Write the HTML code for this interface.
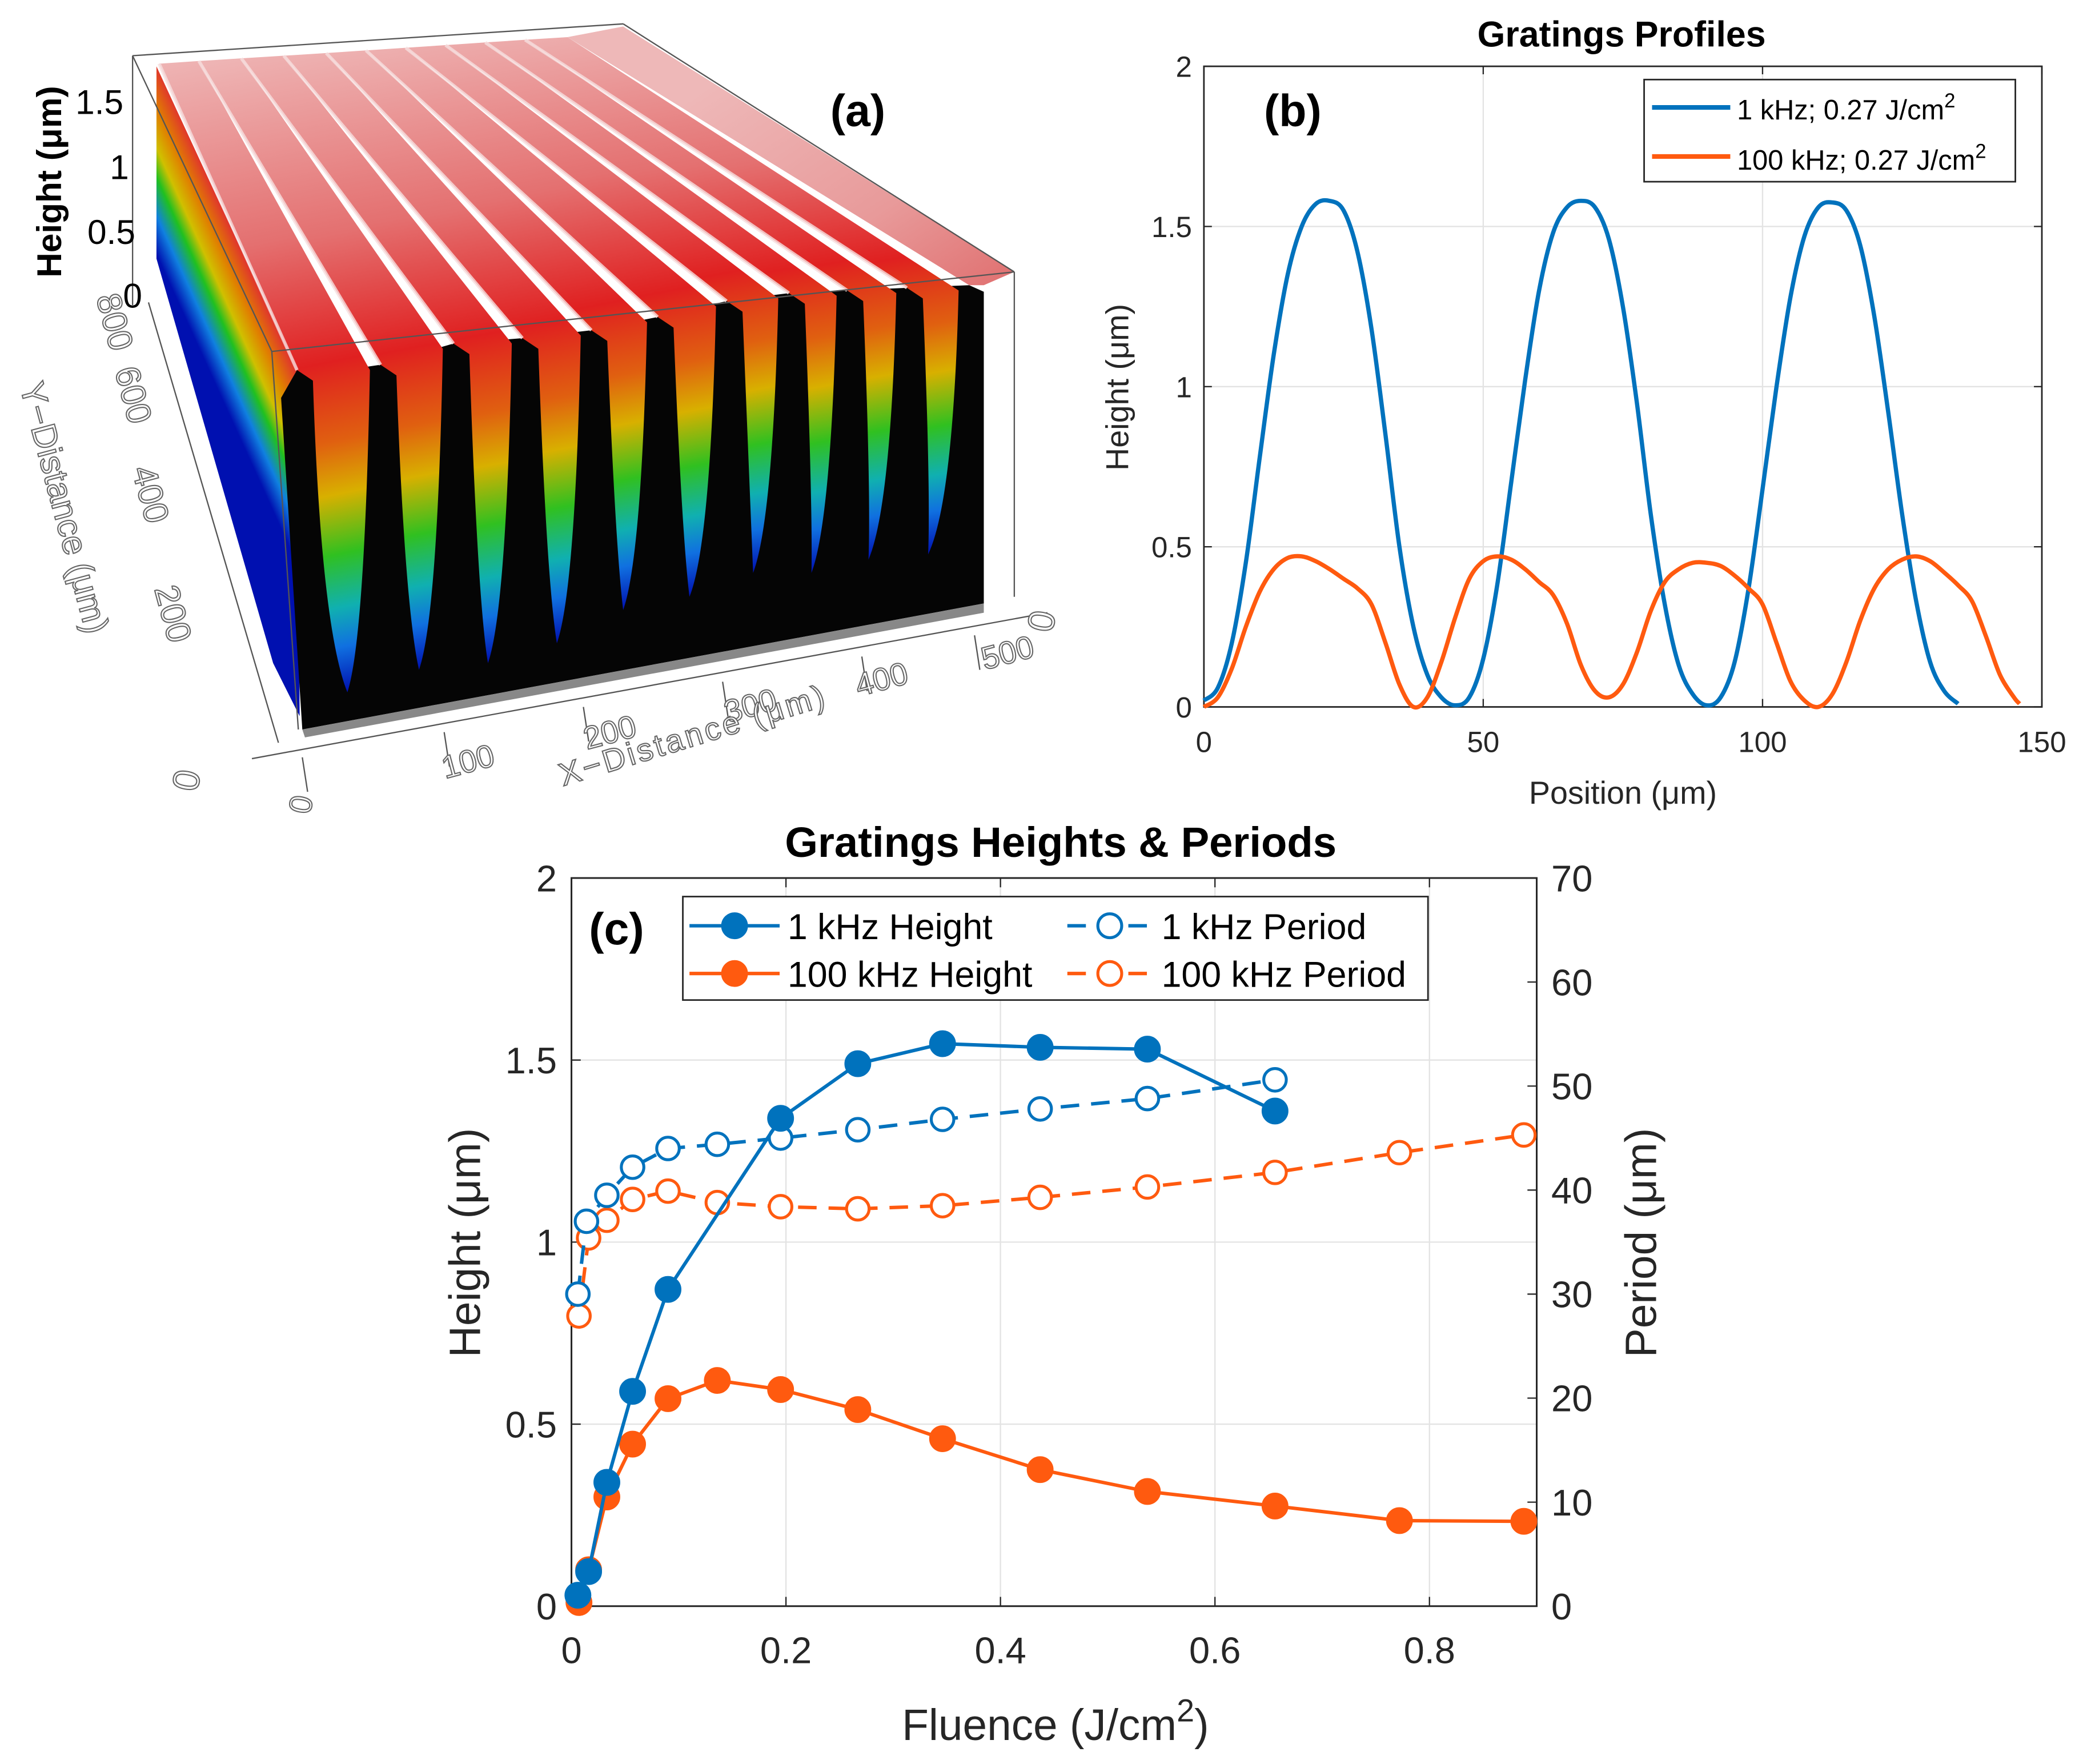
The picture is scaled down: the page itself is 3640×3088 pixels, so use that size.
<!DOCTYPE html>
<html><head><meta charset="utf-8">
<style>
html,body{margin:0;padding:0;background:#fff;}
svg{display:block;}
text{font-family:"Liberation Sans",sans-serif;}
</style></head>
<body>
<svg id="fig" xmlns="http://www.w3.org/2000/svg" width="3640" height="3088" viewBox="0 0 1568 1330" preserveAspectRatio="none">
<defs id="defs"></defs>
<g id="pa"></g>
<g id="pb"></g>
<g id="pc"></g>
</svg>
<script>
// ---------- Panel b data ----------
const profX = [0,2.5,5,7.5,10,12.5,15,17.5,20,22.5,25,27.5,30,32.5,35,37.5,40,42.5,45,47.5,50,52.5,55,57.5,60,62.5,65,67.5,70,72.5,75,77.5,80,82.5,85,87.5,90,92.5,95,97.5,100,102.5,105,107.5,110,112.5,115,117.5,120,122.5,125,127.5,130,132.5,135,137.5,140,142.5,145,146];
const prof1k = [0.02,0.06,0.2,0.45,0.78,1.1,1.35,1.5,1.57,1.58,1.55,1.42,1.18,0.85,0.5,0.25,0.1,0.03,0.005,0.03,0.15,0.38,0.7,1.02,1.3,1.48,1.56,1.58,1.56,1.46,1.25,0.95,0.6,0.32,0.13,0.04,0.005,0.03,0.14,0.37,0.68,1.0,1.28,1.47,1.56,1.575,1.55,1.44,1.22,0.92,0.6,0.33,0.14,0.05,0.01,null,null,null,null,null];
const prof100k = [0.0,0.03,0.12,0.25,0.36,0.43,0.465,0.47,0.455,0.43,0.4,0.37,0.32,0.2,0.07,0.0,0.03,0.14,0.28,0.4,0.455,0.47,0.46,0.43,0.39,0.35,0.26,0.13,0.05,0.03,0.07,0.17,0.3,0.39,0.43,0.45,0.45,0.44,0.41,0.37,0.32,0.2,0.08,0.02,0.0,0.04,0.14,0.27,0.37,0.43,0.46,0.47,0.455,0.42,0.38,0.33,0.22,0.1,0.03,0.01];
const bXTicks = [0,50,100,150];
const bYTicks = [0,0.5,1,1.5,2];
const bYTickLabels = ["0","0.5","1","1.5","2"];

// ---------- Panel c data ----------
const h1kX = [0.006,0.016,0.033,0.057,0.090,0.195,0.267,0.346,0.437,0.537,0.656];
const h1kY = [0.03,0.095,0.34,0.59,0.87,1.34,1.49,1.545,1.535,1.53,1.36];
const p1kX = [0.006,0.014,0.033,0.057,0.090,0.136,0.195,0.267,0.346,0.437,0.537,0.656];
const p1kY = [30.0,37.0,39.5,42.2,44.0,44.4,45.0,45.8,46.8,47.8,48.8,50.6];
const h100kX = [0.007,0.016,0.033,0.057,0.090,0.136,0.195,0.267,0.346,0.437,0.537,0.656,0.772,0.888];
const h100kY = [0.01,0.10,0.30,0.445,0.57,0.62,0.595,0.54,0.46,0.375,0.315,0.275,0.235,0.233];
const p100kX = [0.007,0.016,0.033,0.057,0.090,0.136,0.195,0.267,0.346,0.437,0.537,0.656,0.772,0.888];
const p100kY = [27.9,35.4,37.1,39.1,39.9,38.8,38.4,38.2,38.5,39.3,40.3,41.7,43.6,45.3];
const cXTicks = [0,0.2,0.4,0.6,0.8];
const cXTickLabels = ["0","0.2","0.4","0.6","0.8"];
const cYTicks = [0,0.5,1,1.5,2];
const cYTickLabels = ["0","0.5","1","1.5","2"];
const cY2Ticks = [0,10,20,30,40,50,60,70];

const NS = "http://www.w3.org/2000/svg";
function mk(parent, tag, attrs, txt){
  const e = document.createElementNS(NS, tag);
  for (const k in attrs) e.setAttribute(k, attrs[k]);
  if (txt !== undefined) e.textContent = txt;
  parent.appendChild(e);
  return e;
}
const BLUE = "#0072BD", ORANGE = "#FF5A0F";

// ================= Panel B =================
(function(){
  const g = document.getElementById('pb');
  const L=908,R=1540,T=50,B=533;
  const sx = v => L + (v-0)/(150-0)*(R-L);
  const sy = v => B - (v-0)/(2-0)*(B-T);
  bXTicks.forEach(t=>{
    if (t>0 && t<150){ const l = mk(g,'line',{x1:sx(t),x2:sx(t),y1:T,y2:B,stroke:'#e3e3e3','stroke-width':1});
      }
  });
  bYTicks.forEach(t=>{
    if (t>0 && t<2){ const l = mk(g,'line',{x1:L,x2:R,y1:sy(t),y2:sy(t),stroke:'#e3e3e3','stroke-width':1});
      }
  });
  const box = mk(g,'rect',{x:L,y:T,width:R-L,height:B-T,fill:'none',stroke:'#262626','stroke-width':1.2});
   
  bXTicks.forEach(t=>{
    mk(g,'line',{x1:sx(t),x2:sx(t),y1:B,y2:B-6,stroke:'#262626'});
    mk(g,'line',{x1:sx(t),x2:sx(t),y1:T,y2:T+6,stroke:'#262626'});
    const tx = mk(g,'text',{x:sx(t),y:567,'font-size':22,'text-anchor':'middle',fill:'#262626'},String(t));
     
  });
  bYTicks.forEach((t,i)=>{
    mk(g,'line',{x1:L,x2:L+6,y1:sy(t),y2:sy(t),stroke:'#262626'});
    mk(g,'line',{x1:R,x2:R-6,y1:sy(t),y2:sy(t),stroke:'#262626'});
    const tx = mk(g,'text',{x:899,y:sy(t)+8,'font-size':22,'text-anchor':'end',fill:'#262626'},bYTickLabels[i]);
     
  });
  function smooth(xs, ys){
    const pts=[]; xs.forEach((x,i)=>{ if(ys[i]!==null) pts.push([sx(x),sy(ys[i])]); });
    let d='M'+pts[0][0]+','+pts[0][1];
    for(let i=0;i<pts.length-1;i++){
      const p0=pts[Math.max(0,i-1)],p1=pts[i],p2=pts[i+1],p3=pts[Math.min(pts.length-1,i+2)];
      const c1=[p1[0]+(p2[0]-p0[0])/6,p1[1]+(p2[1]-p0[1])/6];
      const c2=[p2[0]-(p3[0]-p1[0])/6,p2[1]-(p3[1]-p1[1])/6];
      d+=' C'+c1[0]+','+c1[1]+' '+c2[0]+','+c2[1]+' '+p2[0]+','+p2[1];
    }
    return d;
  }
  const l1 = mk(g,'path',{d:smooth(profX,prof1k),fill:'none',stroke:BLUE,'stroke-width':3.2,'stroke-linejoin':'round'});
   
  const l2 = mk(g,'path',{d:smooth(profX,prof100k),fill:'none',stroke:ORANGE,'stroke-width':3.2,'stroke-linejoin':'round'});
   
  const title = mk(g,'text',{x:1223,y:35,'font-size':27,'font-weight':'bold','text-anchor':'middle',fill:'#000'},'Gratings Profiles');
   
  const xl = mk(g,'text',{x:1224,y:606,'font-size':24,'text-anchor':'middle',fill:'#262626'},'Position (μm)');
   
  const yl = mk(g,'text',{x:0,y:0,'font-size':24,'text-anchor':'middle',fill:'#262626',transform:'translate(851,292) rotate(-90)'},'Height (μm)');
   
  const pl = mk(g,'text',{x:975,y:95,'font-size':34,'font-weight':'bold','text-anchor':'middle',fill:'#000','font-family':'Liberation Serif, serif'},'(b)');
   
  const lg = mk(g,'g',{});
   
  mk(lg,'rect',{x:1240,y:60,width:280,height:77,fill:'#fff',stroke:'#262626','stroke-width':1.2});
  const e1 = mk(lg,'g',{});
   
  mk(e1,'line',{x1:1246,x2:1305,y1:81,y2:81,stroke:BLUE,'stroke-width':3.5});
  const t1 = mk(e1,'text',{x:1310,y:90,'font-size':21,fill:'#000'},'1 kHz; 0.27 J/cm');
  mk(t1,'tspan',{dy:-9,'font-size':15},'2');
  const e2 = mk(lg,'g',{});
   
  mk(e2,'line',{x1:1246,x2:1305,y1:118,y2:118,stroke:ORANGE,'stroke-width':3.5});
  const t2 = mk(e2,'text',{x:1310,y:128,'font-size':21,fill:'#000'},'100 kHz; 0.27 J/cm');
  mk(t2,'tspan',{dy:-9,'font-size':15},'2');
})();

// ================= Panel C =================
(function(){
  const g = document.getElementById('pc');
  const L=431,R=1159,T=662,B=1211;
  const sx = v => L + v/0.9*(R-L);
  const sy = v => B - v/2*(B-T);
  const sy2 = v => B - v/70*(B-T);
  cXTicks.forEach(t=>{ if(t>0){
    const l = mk(g,'line',{x1:sx(t),x2:sx(t),y1:T,y2:B,stroke:'#e3e3e3','stroke-width':1});
      }});
  cYTicks.forEach(t=>{ if(t>0 && t<2){
    const l = mk(g,'line',{x1:L,x2:R,y1:sy(t),y2:sy(t),stroke:'#e3e3e3','stroke-width':1});
      }});
  const box = mk(g,'rect',{x:L,y:T,width:R-L,height:B-T,fill:'none',stroke:'#262626','stroke-width':1.3});
   
  cXTicks.forEach((t,i)=>{
    mk(g,'line',{x1:sx(t),x2:sx(t),y1:B,y2:B-7,stroke:'#262626'});
    mk(g,'line',{x1:sx(t),x2:sx(t),y1:T,y2:T+7,stroke:'#262626'});
    const tx = mk(g,'text',{x:sx(t),y:1254,'font-size':28,'text-anchor':'middle',fill:'#262626'},cXTickLabels[i]);
     
  });
  cYTicks.forEach((t,i)=>{
    mk(g,'line',{x1:L,x2:L+7,y1:sy(t),y2:sy(t),stroke:'#262626'});
    const tx = mk(g,'text',{x:420,y:sy(t)+10,'font-size':28,'text-anchor':'end',fill:'#262626'},cYTickLabels[i]);
     
  });
  cY2Ticks.forEach(t=>{
    mk(g,'line',{x1:R,x2:R-7,y1:sy2(t),y2:sy2(t),stroke:'#262626'});
    const tx = mk(g,'text',{x:1170,y:sy2(t)+10,'font-size':28,'text-anchor':'start',fill:'#262626'},String(t));
     
  });
  function series(xs, ys, yf, color, dashed, filled, name){
    const sg = mk(g,'g',{});
    
    
    const pts = xs.map((x,i)=>sx(x)+','+yf(ys[i])).join(' ');
    const a = {points:pts,fill:'none',stroke:color,'stroke-width':2.6,'stroke-linejoin':'round'};
    if (dashed) a['stroke-dasharray']='14,9';
    mk(sg,'polyline',a);
    xs.forEach((x,i)=>{
      const c = mk(sg,'circle',{cx:sx(x),cy:yf(ys[i]),r:filled?9:8.5,fill:filled?color:'#fff',stroke:color,'stroke-width':2.2});
      
      
    });
  }
  series(p100kX,p100kY,sy2,ORANGE,true,false,'series-100khz-period');
  series(p1kX,p1kY,sy2,BLUE,true,false,'series-1khz-period');
  series(h100kX,h100kY,sy,ORANGE,false,true,'series-100khz-height');
  series(h1kX,h1kY,sy,BLUE,false,true,'series-1khz-height');
  const title = mk(g,'text',{x:800,y:646,'font-size':32,'font-weight':'bold','text-anchor':'middle',fill:'#000'},'Gratings Heights & Periods');
   
  const xl = mk(g,'text',{x:796,y:1312,'font-size':33,'text-anchor':'middle',fill:'#262626'},'Fluence (J/cm');
  mk(xl,'tspan',{dy:-14,'font-size':24},'2');
  mk(xl,'tspan',{dy:14},')');
   
  const yl = mk(g,'text',{x:0,y:0,'font-size':33,'text-anchor':'middle',fill:'#262626',transform:'translate(362,937) rotate(-90)'},'Height (μm)');
   
  const y2l = mk(g,'text',{x:0,y:0,'font-size':33,'text-anchor':'middle',fill:'#262626',transform:'translate(1249,937) rotate(-90)'},'Period (μm)');
   
  const pl = mk(g,'text',{x:465,y:712,'font-size':34,'font-weight':'bold','text-anchor':'middle',fill:'#000','font-family':'Liberation Serif, serif'},'(c)');
   
  const lg = mk(g,'g',{});
   
  mk(lg,'rect',{x:515,y:676,width:562,height:78,fill:'#fff',stroke:'#262626','stroke-width':1.2});
  const entries = [
    [520,588,554,698,BLUE,false,true,'1 kHz Height','legend-entry-1khz-height'],
    [520,588,554,734,ORANGE,false,true,'100 kHz Height','legend-entry-100khz-height'],
    [805,870,837,698,BLUE,true,false,'1 kHz Period','legend-entry-1khz-period'],
    [805,870,837,734,ORANGE,true,false,'100 kHz Period','legend-entry-100khz-period']];
  entries.forEach(e=>{
    const eg = mk(lg,'g',{});
    
    
    const la = {x1:e[0],x2:e[1],y1:e[3],y2:e[3],stroke:e[4],'stroke-width':2.6};
    if (e[5]) la['stroke-dasharray']='14,9';
    mk(eg,'line',la);
    mk(eg,'circle',{cx:e[2],cy:e[3],r:9,fill:e[6]?e[4]:'#fff',stroke:e[4],'stroke-width':2.2});
    mk(eg,'text',{x:e[1]+6,y:e[3]+10,'font-size':27,fill:'#000'},e[7]);
  });
})();

// ================= Panel A (3D surface illustration) =================
(function(){
  const g = document.getElementById('pa');
  const defs = document.getElementById('defs');
  const F = [[224,279],[287,275],[342,259],[394,255],[446,249],[496,239],[548,227],[595,221],[639,219],[684,217],[731,215]];
  const Bk = [[120,48],[150,46],[182,44],[214,42],[246,40],[276,38],[306,36],[336,34],[366,32],[396,30],[428,28]];
  const Tp = [[262,522],[316,505],[368,500],[420,485],[470,460],[520,450],[568,432],[612,432],[655,422],[700,418]];
  // left wall
  mk(defs,'linearGradient',{id:'gl',gradientUnits:'userSpaceOnUse',x1:'224',y1:'279',x2:'169',y2:'304'});
  const gl = defs.lastChild;
  [['0','#e03030'],['0.25','#e08000'],['0.45','#d0c000'],['0.6','#20c020'],['0.8','#1080e0'],['1','#0010b0']].forEach(s=>mk(gl,'stop',{offset:s[0],'stop-color':s[1]}));
  const lw = mk(g,'polygon',{points:'118,50 224,279 226,540 206,500 118,195',fill:'url(#gl)'});
   
  // black front face
  const ff = mk(g,'polygon',{points:'212,300 224,279 240,282 '+F.slice(1).map(p=>p[0]+','+p[1]).join(' ')+' 742,220 742,455 228,550',fill:'#050505'});
   
  // base strip
  const bs = mk(g,'polygon',{points:'228,550 742,455 742,462 230,556',fill:'#888'});
   
  // right region after last ridge
  mk(defs,'linearGradient',{id:'gr',gradientUnits:'userSpaceOnUse',x1:'600',y1:'20',x2:'740',y2:'230'});
  const gr = defs.lastChild;
  [['0','#eeb8b8'],['0.6','#e89a9a'],['1','#e07070']].forEach(s=>mk(gr,'stop',{offset:s[0],'stop-color':s[1]}));
  const rr = mk(g,'polygon',{points:'428,28 470,20 765,205 742,215 731,215',fill:'url(#gr)'});
   
  for (let i=0;i<10;i++){
    const gid='gg'+i;
    const lgd = mk(defs,'linearGradient',{id:gid,gradientUnits:'userSpaceOnUse',x1:F[i][0]-60,y1:F[i][1]-240,x2:Tp[i][0],y2:Tp[i][1]});
    [['0','#eeb4b4'],['0.3','#e47070'],['0.5','#e02020'],['0.62','#e06010'],['0.7','#d8b000'],['0.79','#30c020'],['0.87','#10b0b0'],['0.93','#1070e0'],['1','#0010b0']].forEach(s=>mk(lgd,'stop',{offset:s[0],'stop-color':s[1]}));
    const a = [F[i+1][0]-8, F[i+1][1]+4];
    const b = [F[i][0]+12, F[i][1]+8];
    const tp = Tp[i];
    const d = 'M'+Bk[i][0]+','+Bk[i][1]+' L'+Bk[i+1][0]+','+Bk[i+1][1]+' L'+a[0]+','+a[1]+
      ' Q'+(a[0]-4)+','+(tp[1]-40)+' '+tp[0]+','+tp[1]+
      ' Q'+(b[0]+6)+','+(tp[1]-50)+' '+b[0]+','+b[1]+' L'+F[i][0]+','+F[i][1]+' Z';
    const p = mk(g,'path',{d:d,fill:'url(#'+gid+')'});
    
    
    const rl = mk(g,'line',{x1:Bk[i][0],y1:Bk[i][1],x2:F[i][0],y2:F[i][1],stroke:'#f6dede','stroke-width':2.5,'stroke-opacity':0.8});
    
    
  }
  // box edges
  const edges = [[100,42,470,18],[470,18,765,205],[205,265,765,205],[100,42,100,230],[205,265,225,550],[765,205,765,450],[100,42,205,265]];
  edges.forEach(e=>{
    const l = mk(g,'line',{x1:e[0],y1:e[1],x2:e[2],y2:e[3],stroke:'#555','stroke-width':1});
     
  });
  // axes lines
  mk(g,'line',{x1:190,y1:572,x2:790,y2:462,stroke:'#555','stroke-width':1});
  mk(g,'line',{x1:112,y1:228,x2:210,y2:560,stroke:'#555','stroke-width':1});
  const xt = [[0,228,575],[100,335,556],[200,440,537],[300,545,518],[400,650,499],[500,735,483]];
  xt.forEach(t=>{
    mk(g,'line',{x1:t[1],y1:t[2]-4,x2:t[1]+4,y2:t[2]+22,stroke:'#555','stroke-width':1});
  });
  const xLabels = [['0',235,608,-80],['100',355,582,-15],['200',462,560,-15],['300',568,540,-15],['400',667,520,-15],['500',762,500,-15]];
  xLabels.forEach(t=>{
    const tx = mk(g,'text',{x:0,y:0,'font-size':24,fill:'#fff',stroke:'#666','stroke-width':0.9,'text-anchor':'middle',transform:'translate('+t[1]+','+t[2]+') rotate('+t[3]+')'},t[0]);
     
  });
  const x0r = mk(g,'text',{x:0,y:0,'font-size':28,fill:'#fff',stroke:'#666','stroke-width':0.9,'text-anchor':'middle',transform:'translate(795,470) rotate(-80)'},'0');
   
  const x0l = mk(g,'text',{x:0,y:0,'font-size':28,fill:'#fff',stroke:'#666','stroke-width':0.9,'text-anchor':'middle',transform:'translate(150,590) rotate(-80)'},'0');
   
  const xtt = mk(g,'text',{x:0,y:0,'font-size':24,fill:'#fff',stroke:'#666','stroke-width':0.9,'text-anchor':'middle','letter-spacing':2,transform:'translate(525,562) rotate(-17)'},'X−Distance (μm)');
   
  const yLabels = [['800',78,245],['600',92,300],['400',105,375],['200',122,465]];
  yLabels.forEach(t=>{
    const tx = mk(g,'text',{x:0,y:0,'font-size':26,fill:'#fff',stroke:'#666','stroke-width':0.9,'text-anchor':'middle',transform:'translate('+t[1]+','+t[2]+') rotate(75)'},t[0]);
     
  });
  const ytt = mk(g,'text',{x:0,y:0,'font-size':26,fill:'#fff',stroke:'#666','stroke-width':0.9,'text-anchor':'middle',transform:'translate(40,385) rotate(75)'},'Y−Distance (μm)');
   
  const ht = mk(g,'text',{x:0,y:0,'font-size':26,'font-weight':'bold',fill:'#000','text-anchor':'middle',transform:'translate(46,137) rotate(-90)'},'Height (μm)');
   
  [['1.5',75,86],['1',90,135],['0.5',84,184],['0',100,232]].forEach(t=>{
    const tx = mk(g,'text',{x:t[1],y:t[2],'font-size':26,'text-anchor':'middle',fill:'#000'},t[0]);
     
  });
  const pl = mk(g,'text',{x:647,y:95,'font-size':34,'font-weight':'bold','text-anchor':'middle',fill:'#000','font-family':'Liberation Serif, serif'},'(a)');
   
})();
</script>
</body></html>
